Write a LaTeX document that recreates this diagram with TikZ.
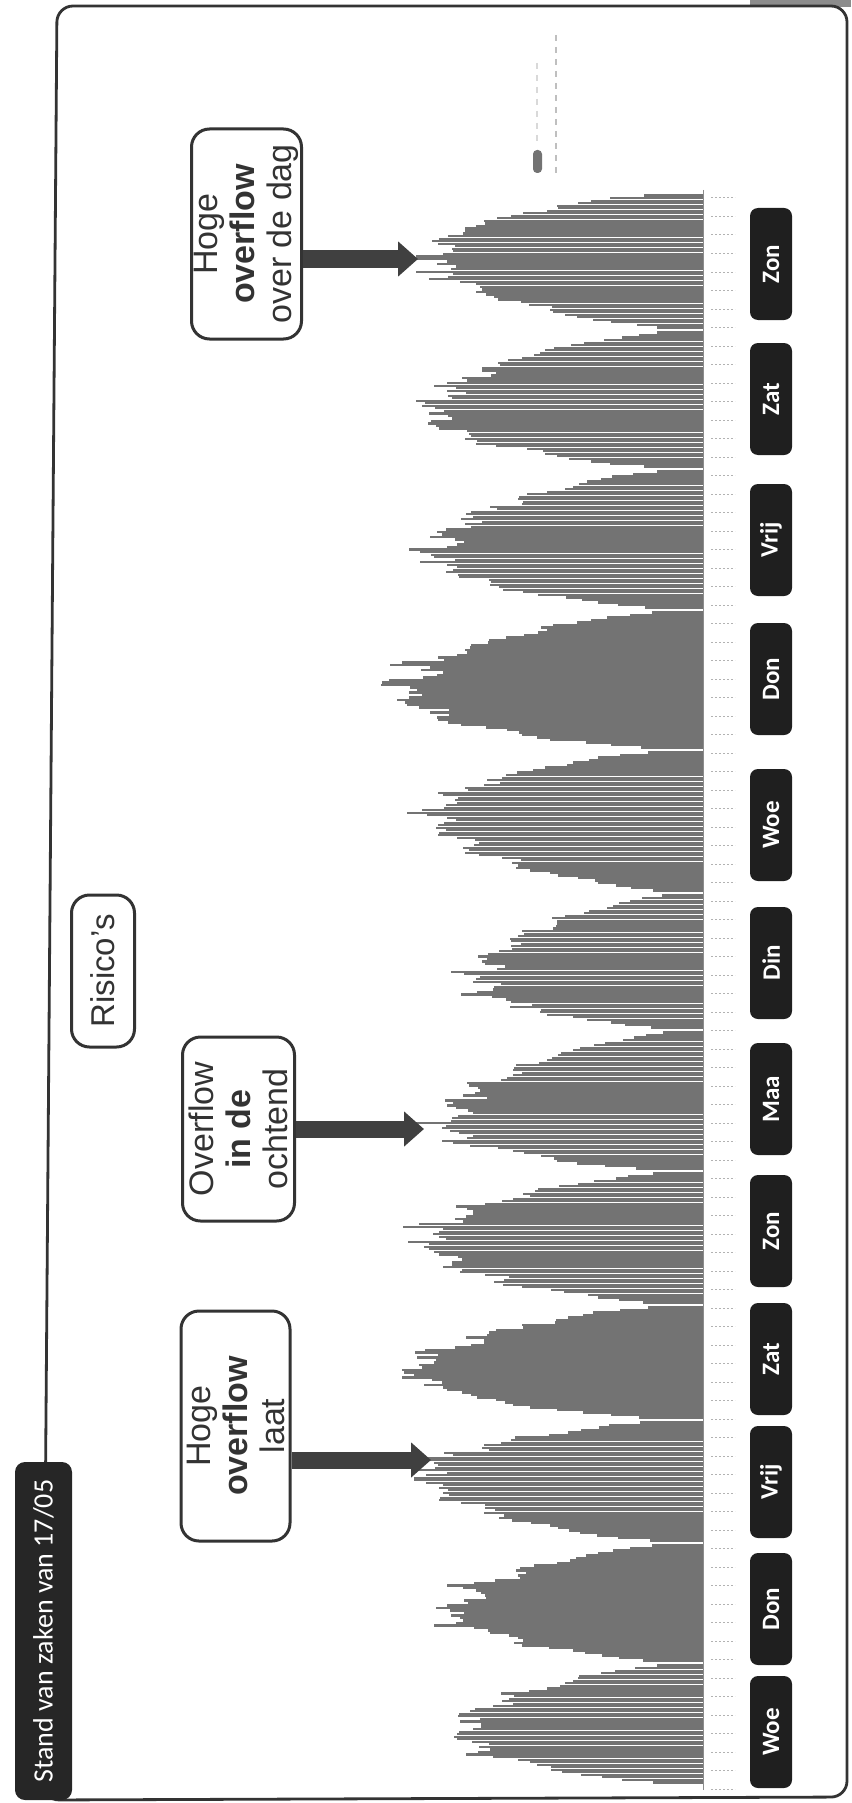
\documentclass[tikz,border=0pt]{standalone}
\usepackage{fontspec}
\setmainfont{Liberation Sans}
\newfontfamily\labelfont{Carlito}
\usetikzlibrary{arrows.meta}
\tikzset{>=latex}
\tikzset{callout/.style = {draw=black!80, line width=1.5pt, rounded corners=9pt, fill=white, rotate=90, align=center, inner sep=1pt, text=black!80, font=\fontsize{17}{18.5}\selectfont}}
\tikzset{daybox/.style = {fill=black!88, rounded corners=4pt, rotate=90, minimum width=56pt, minimum height=21pt, inner sep=0pt, text=white, font=\labelfont\bfseries\fontsize{12.5}{14}\selectfont}}
\tikzset{titletab/.style = {fill=black!85, rounded corners=5pt, rotate=90, minimum width=169pt, minimum height=28.5pt, inner sep=0pt, text=white, font=\labelfont\fontsize{14}{16}\selectfont}}
\tikzset{big arrow/.style = {draw=black!75, line width=8.5pt, -{Triangle[width=17pt,length=10pt]}}}
\tikzset{chart bar/.style = {black!55, line width=1.1pt}}
\tikzset{tick text/.style = {black!30, line width=0.5pt, dash pattern=on 0.8pt off 1.2pt}}

\begin{document}
\begin{tikzpicture}[x=0.5pt, y={(0,-0.5pt)}]
		\useasboundingbox (0,0) rectangle (851,1803);

		% Frame
		\fill[black!45] (750,0) rectangle (851,7);
		\draw[black!80, line width=1.4pt, rounded corners=8pt] (57,6) -- (847,6) -- (847,1797) -- (43,1800) -- cycle;

		% Legend remains
		\fill[black!55, rounded corners=2pt] (533,150) rectangle (542,173);
		\draw[black!25, dashed, line width=0.6pt] (556,35) -- (556,177);
		\draw[black!15, dashed, line width=0.6pt] (537,63) -- (537,145);

		% Chart
		\pgfmathsetseed{7}
		\foreach \ytop/\ybot/\len/\tp in {193/330/262/0.58, 330/469/262/0.40, 469/610/262/0.39, 610/750/292/0.40,
				750/893/262/0.55, 893/1030/218/0.35, 1030/1171/245/0.30, 1171/1305/265/0.45,
				1305/1420/275/0.41, 1420/1543/268/0.55, 1543/1663/238/0.43, 1663/1785/232/0.43}{
			\pgfmathtruncatemacro{\nbar}{(\ybot-\ytop)/2.5}
			\pgfmathtruncatemacro{\nlast}{\nbar-1}
			\foreach \k in {1,...,\nlast}{
				\pgfmathsetmacro{\tpos}{\k/\nbar}
				\pgfmathsetmacro{\hs}{\tpos<\tp ? \tpos/\tp : (1-\tpos)/(1-\tp)}
				\pgfmathsetmacro{\gval}{sin(90*\hs)^0.6}
				\pgfmathsetmacro{\barlen}{5+\len*\gval*(1+0.05*rand+0.05*sin(\k*47+\ytop))+(rnd>0.86)*(10+25*rnd)*\gval^3}
				\draw[chart bar] (703,{\ybot-\k*(\ybot-\ytop)/\nbar}) -- ++(-\barlen,0);
			}
		}
		\draw[black!45, line width=0.5pt] (703,190) -- (703,1790);
		\foreach \ty in {198,216.5,...,1790}
			\draw[tick text] (711,\ty) -- (735,\ty);

		% Days
		\foreach \dname/\dy [count=\i] in {Zon/264, Zat/399, Vrij/540, Don/679, Woe/825, Din/963,
				Maa/1099, Zon/1231, Zat/1359, Vrij/1482, Don/1609, Woe/1732}
			\node[daybox] (day\i) at (771,\dy) {\dname};

		% Callouts
		\node[callout, minimum width=105pt, minimum height=55pt] (hogedag) at (246.5,234) {Hoge\\\textbf{overflow}\\over de dag};
		\node[callout, minimum width=92pt, minimum height=56pt] (ochtend) at (238.5,1129) {Overflow\\\textbf{in de}\\ochtend};
		\node[callout, minimum width=115pt, minimum height=54.5pt] (hogelaat) at (235.5,1426) {Hoge\\\textbf{overflow}\\laat};
		\node[callout, minimum width=76pt, minimum height=31.5pt, font=\fontsize{16.5}{19}\selectfont] (risico) at (103,971) {Risico's};

		% Arrows
		\coordinate (tipdag) at (418,259);
		\coordinate (tipochtend) at (424,1129);
		\coordinate (tiplaat) at (431,1460);
		\draw[big arrow] (hogedag.south |- tipdag) -- (tipdag);
		\draw[big arrow] (ochtend.south |- tipochtend) -- (tipochtend);
		\draw[big arrow] (hogelaat.south |- tiplaat) -- (tiplaat);

		% Title
		\node[titletab] (stand) at (43.5,1631) {Stand van zaken van 17/05};
	\end{tikzpicture}
\end{document}
